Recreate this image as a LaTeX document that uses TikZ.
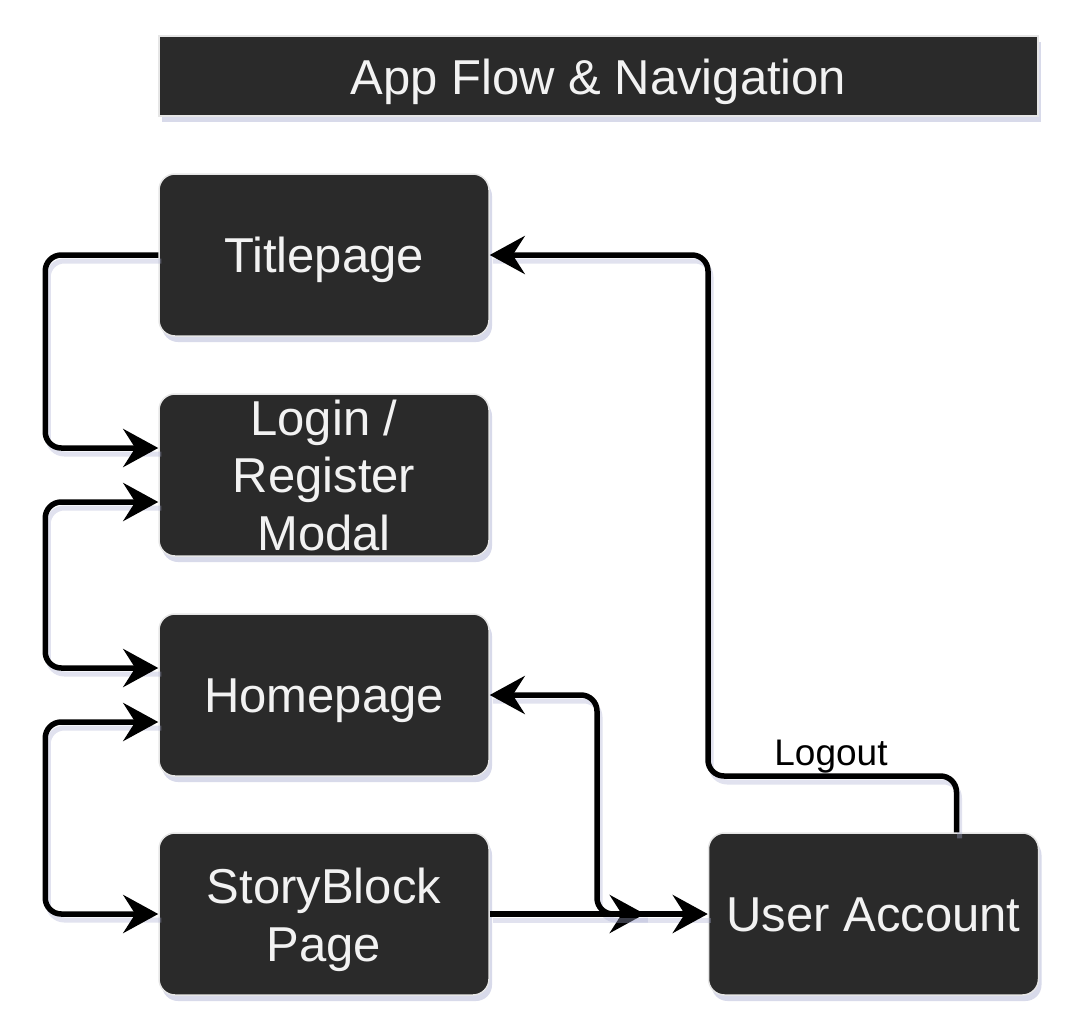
\documentclass[tikz,border=0pt]{standalone}
\usepackage{fontspec}
\setmainfont{Liberation Sans}
\usetikzlibrary{arrows.meta,shadows,calc}
\definecolor{boxfill}{HTML}{2A2A2A}
\definecolor{boxline}{HTML}{E6E6E6}
\definecolor{txtcol}{HTML}{F2F2F2}
\definecolor{shadowcol}{HTML}{A8ACD0}
\tikzset{
  tip/.tip={Stealth[length=35pt, width=38pt, inset=12pt]},
  box/.style={draw=boxline, line width=1.5pt, fill=boxfill, rounded corners=16pt,
    minimum width=330pt, minimum height=162pt, align=center, text=txtcol,
    font=\fontsize{49}{57.5}\selectfont, inner sep=0pt, text height=35pt, text depth=0pt,
    drop shadow={fill=shadowcol, opacity=0.45, shadow xshift=3pt, shadow yshift=-6pt}},
  titlebox/.style={draw=boxline, line width=1.5pt, fill=boxfill,
    minimum width=879pt, minimum height=80pt, text=txtcol,
    font=\fontsize{49}{57}\selectfont, inner sep=0pt, text height=36pt, text depth=0pt,
    drop shadow={fill=shadowcol, opacity=0.45, shadow xshift=3pt, shadow yshift=-6pt}},
  conn/.style={line width=5.5pt, rounded corners=16pt, black, arrows={-tip},
    preaction={draw=shadowcol, opacity=0.35, line width=5pt, -, transform canvas={shift={(3pt,-6pt)}}}},
  both/.style={arrows={tip-tip}},
  lbl/.style={font=\fontsize{37}{44}\selectfont, text=black, inner sep=0pt, anchor=base}
}
\begin{document}
\begin{tikzpicture}[x=1pt, y=-1pt]
\useasboundingbox (0,0) rectangle (1092,1028);
\node[titlebox] (title) at (598.5,76) {App Flow \& Navigation};
\node[box] (tp) at (324,255) {Titlepage};
\node[box, text height=150pt] (lg) at (324,475) {Login /\\Register\\Modal};
\node[box] (hp) at (324,695) {Homepage};
\node[box, text height=94pt] (sb) at (324,914) {StoryBlock\\Page};
\node[box] (ua) at (873.5,914) {User Account};
\coordinate (hpend) at ([xshift=-63pt]ua.west);
\coordinate (c5) at (597,0);
\coordinate (c6) at (708,776);
\draw[conn] (tp.west) -- ++(-113,0) |- ([yshift=27pt]lg.west);
\draw[conn, both] ([yshift=-27pt]lg.west) -- ++(-113,0) |- ([yshift=27pt]hp.west);
\draw[conn, both] ([yshift=-27pt]hp.west) -- ++(-113,0) |- (sb.west);
\draw[conn, both] (hp.east) -| (c5 |- sb.east) -- (hpend);
\draw[conn] (sb.east) -- (ua.west);
\draw[conn] ([xshift=83pt]ua.north) |- (c6) |- (tp.east);
\node[lbl] (logout) at (831,765) {Logout};
\end{tikzpicture}
\end{document}
